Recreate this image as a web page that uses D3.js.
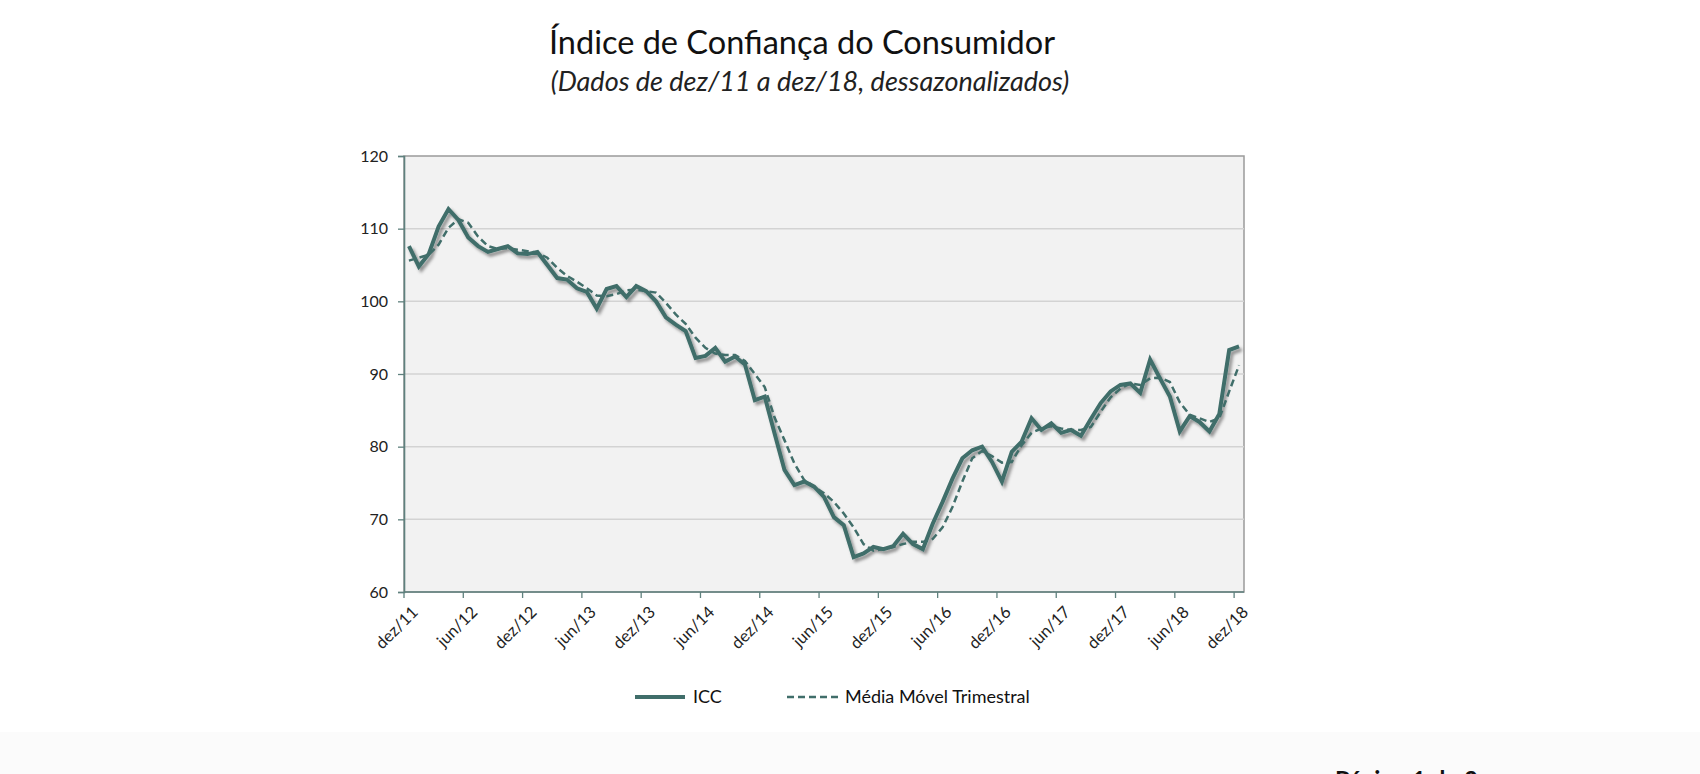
<!DOCTYPE html>
<html>
<head>
<meta charset="utf-8">
<script src="https://cdn.jsdelivr.net/npm/d3@7"></script>
<style>
  html, body { margin: 0; padding: 0; background: #ffffff; }
  svg { display: block; }
</style>
</head>
<body>
<svg id="chart" width="1700" height="774"></svg>
<script>
// ---------- DATA ----------
const monthNames = ["jan","fev","mar","abr","mai","jun","jul","ago","set","out","nov","dez"];
// categories: dez/11 ... dez/18 (85 months)
const months = ["dez/11"];
for (let y = 12; y <= 18; y++) for (let m = 0; m < 12; m++) months.push(monthNames[m] + "/" + y);

const icc = [
  107.6, 104.8, 106.5, 110.3, 112.7, 111.2, 108.8, 107.6, 106.8, 107.2,
  107.6, 106.6, 106.5, 106.8, 105.0, 103.2, 103.0, 101.8, 101.3, 99.0,
  101.7, 102.1, 100.6, 102.1, 101.4, 100.0, 97.8, 96.8, 95.9, 92.2,
  92.5, 93.6, 91.7, 92.4, 91.3, 86.4, 86.9, 81.8, 76.8, 74.7,
  75.2, 74.5, 73.1, 70.3, 69.2, 64.8, 65.3, 66.2, 65.9, 66.3,
  68.0, 66.6, 65.9, 69.4, 72.4, 75.6, 78.4, 79.5, 80.0, 77.9,
  75.2, 79.3, 80.7, 83.9, 82.3, 83.2, 81.9, 82.3, 81.5, 83.8,
  86.0, 87.6, 88.5, 88.7, 87.4, 92.0, 89.4, 86.9, 82.1, 84.2,
  83.4, 82.1, 84.5, 93.3, 93.8
];
const mediaMovel = [
  105.6, 106.0, 106.4, 107.8, 110.1, 111.3, 110.8, 108.9, 107.6, 107.2,
  107.3, 107.1, 106.9, 106.7, 106.0, 104.6, 103.5, 102.7, 101.8, 100.8,
  100.7, 101.0, 101.5, 101.6, 101.4, 101.2, 99.8, 98.2, 96.9, 95.0,
  93.6, 92.8, 92.6, 92.6, 91.8, 90.0, 88.2, 84.0, 80.9, 77.7,
  75.4, 74.5, 73.6, 72.4, 70.8, 68.9, 66.6, 65.7, 65.9, 66.2,
  66.6, 66.9, 66.9, 67.3, 68.9, 71.7, 75.2, 78.4, 79.4, 78.7,
  77.8, 77.9, 80.2, 81.9, 82.5, 82.8, 82.5, 82.3, 82.3, 82.7,
  84.8, 86.8, 88.0, 88.7, 88.5, 89.4, 89.5, 88.9, 86.1, 84.4,
  83.9, 83.4, 83.9, 87.6, 91.2
];
const yTicks = [60, 70, 80, 90, 100, 110, 120];
const labelEvery = 6;
const seriesNames = ["ICC", "Média Móvel Trimestral"];
const titleText = "Índice de Confiança do Consumidor";
const subtitleText = "(Dados de dez/11 a dez/18, dessazonalizados)";
const footerText = "Página 1 de 2";

// ---------- LAYOUT ----------
const plot = { left: 404, right: 1244, top: 156, bottom: 592 };
const color = "#406e6a";
const font = "Lato, 'Open Sans', sans-serif";

const svg = d3.select("#chart");

const defs = svg.append("defs");
const f = defs.append("filter").attr("id", "shadow")
  .attr("x", "-5%").attr("y", "-5%").attr("width", "115%").attr("height", "115%");
f.append("feDropShadow").attr("dx", 2.5).attr("dy", 3).attr("stdDeviation", 1.8)
  .attr("flood-color", "#000").attr("flood-opacity", 0.4);

// bottom page band
svg.append("rect").attr("x", 0).attr("y", 732).attr("width", 1700).attr("height", 42)
  .attr("fill", "#fbfbfb");

// titles
svg.append("text").attr("x", 802).attr("y", 54).attr("text-anchor", "middle")
  .attr("font-family", font).attr("font-size", 32.5).attr("fill", "#111")
  .text(titleText);
svg.append("text").attr("x", 810).attr("y", 91).attr("text-anchor", "middle")
  .attr("font-family", font).attr("font-size", 27)
  .attr("font-style", "italic").attr("fill", "#222")
  .text(subtitleText);

// scales
const x = d3.scaleBand().domain(months).range([plot.left, plot.right]).paddingInner(0).paddingOuter(0);
const cx = m => x(m) + x.bandwidth() / 2;
const y = d3.scaleLinear().domain([60, 120]).range([plot.bottom, plot.top]);

// plot background
svg.append("rect").attr("x", plot.left).attr("y", plot.top)
  .attr("width", plot.right - plot.left).attr("height", plot.bottom - plot.top)
  .attr("fill", "#f2f2f2").attr("stroke", "#9a9a9a").attr("stroke-width", 1.5);

// gridlines
svg.append("g").selectAll("line").data(yTicks.filter(t => t > 60 && t < 120)).join("line")
  .attr("x1", plot.left).attr("x2", plot.right)
  .attr("y1", d => y(d)).attr("y2", d => y(d))
  .attr("stroke", "#d3d3d3").attr("stroke-width", 1.5);

// y axis
const yAxis = d3.axisLeft(y).tickValues(yTicks).tickSize(6).tickPadding(10);
const gy = svg.append("g").attr("transform", `translate(${plot.left},0)`).call(yAxis);
gy.select(".domain").attr("stroke", "#5f817e").attr("stroke-width", 1.6);
gy.selectAll(".tick line").attr("stroke", "#5f817e").attr("stroke-width", 1.3);
gy.selectAll(".tick text").attr("font-family", font).attr("font-size", 16).attr("fill", "#222");

// x axis: ticks at band boundaries every 6 months
const tickIdx = d3.range(0, months.length, labelEvery);
const gx = svg.append("g");
gx.append("line").attr("x1", plot.left).attr("x2", plot.right)
  .attr("y1", plot.bottom).attr("y2", plot.bottom)
  .attr("stroke", "#5f817e").attr("stroke-width", 1.6);
gx.selectAll("line.tk").data(tickIdx).join("line").attr("class", "tk")
  .attr("x1", i => x(months[i])).attr("x2", i => x(months[i]))
  .attr("y1", plot.bottom).attr("y2", plot.bottom + 6)
  .attr("stroke", "#5f817e").attr("stroke-width", 1.3);
gx.selectAll("text").data(tickIdx).join("text")
  .attr("transform", i => `translate(${cx(months[i]) + 2},${plot.bottom + 13}) rotate(-45)`)
  .attr("text-anchor", "end").attr("dy", "0.7em")
  .attr("font-family", font).attr("font-size", 16.5).attr("fill", "#222")
  .text(i => months[i]);

// lines
const line = d3.line().x((d, i) => cx(months[i])).y(d => y(d));
svg.append("path").datum(icc).attr("d", line)
  .attr("fill", "none").attr("stroke", color).attr("stroke-width", 4)
  .attr("stroke-linejoin", "miter").attr("filter", "url(#shadow)");
svg.append("path").datum(mediaMovel).attr("d", line)
  .attr("fill", "none").attr("stroke", color).attr("stroke-width", 2.5)
  .attr("stroke-dasharray", "7,4");

// legend
const lg = svg.append("g");
lg.append("line").attr("x1", 635).attr("x2", 685).attr("y1", 697).attr("y2", 697)
  .attr("stroke", color).attr("stroke-width", 4);
lg.append("text").attr("x", 693).attr("y", 703).attr("font-family", font)
  .attr("font-size", 18).attr("fill", "#111").text(seriesNames[0]);
lg.append("line").attr("x1", 787).attr("x2", 838).attr("y1", 697).attr("y2", 697)
  .attr("stroke", color).attr("stroke-width", 2.5).attr("stroke-dasharray", "7,4");
lg.append("text").attr("x", 845).attr("y", 703).attr("font-family", font)
  .attr("font-size", 18).attr("fill", "#111").text(seriesNames[1]);

// footer (cut off at page bottom)
svg.append("text").attr("x", 1335).attr("y", 789).attr("font-family", font)
  .attr("font-size", 24).attr("font-weight", "bold").attr("fill", "#111").text(footerText);
</script>
</body>
</html>
